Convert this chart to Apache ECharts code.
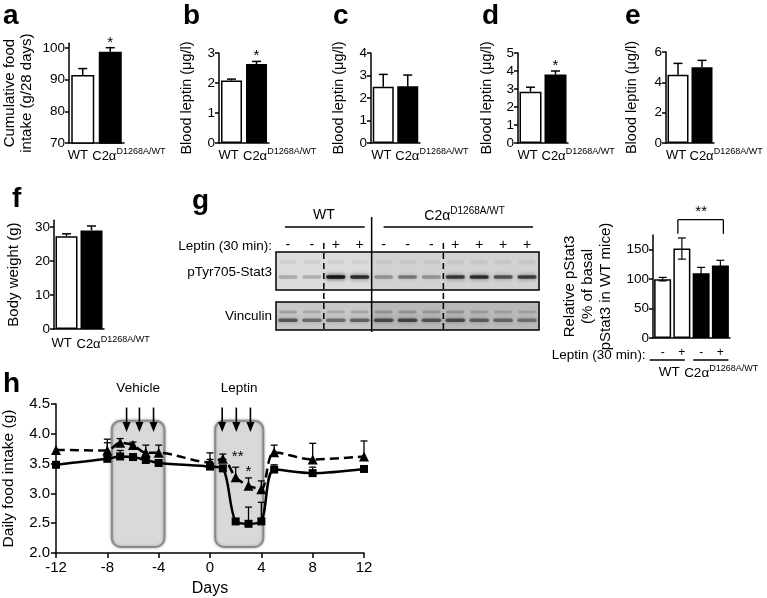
<!DOCTYPE html>
<html><head><meta charset="utf-8">
<script src="https://cdn.jsdelivr.net/npm/echarts@6.0.0/dist/echarts.min.js"></script>
<style>html,body{margin:0;padding:0;background:#fff;}#chart{width:767px;height:598px;}</style>
</head><body><div id="chart"></div>
<script>
// ---------------- data ----------------
const genotypes = ['WT', 'C2α^D1268A/WT'];
const barFill = ['#ffffff', '#000000'];

const foodIntake28 = [91.5, 98.8];
const foodIntake28Err = [2.0, 1.3];
const foodIntake28Sig = ['', '*'];

const leptinB = [2.08, 2.63];
const leptinBErr = [0.05, 0.09];
const leptinBSig = ['', '*'];

const leptinC = [2.5, 2.52];
const leptinCErr = [0.55, 0.5];
const leptinCSig = ['', ''];

const leptinD = [2.85, 3.8];
const leptinDErr = [0.25, 0.2];
const leptinDSig = ['', '*'];

const leptinE = [4.5, 5.0];
const leptinEErr = [0.75, 0.45];
const leptinESig = ['', ''];

const bodyWeight = [27.3, 29.0];
const bodyWeightErr = [0.7, 1.3];
const bodyWeightSig = ['', ''];

const blotGenotype = ['WT','WT','WT','WT','C2','C2','C2','C2','C2','C2','C2'];
const blotLeptin = ['-','-','+','+','-','-','-','+','+','+','+'];
const pStat3Band = [0.22, 0.2, 0.95, 0.8, 0.3, 0.42, 0.3, 0.72, 0.78, 0.6, 0.7];
const vinculinBand = [0.55, 0.45, 0.45, 0.5, 0.6, 0.62, 0.55, 0.6, 0.5, 0.45, 0.4];

const pStatGroup = ['WT', 'WT', 'C2α^D1268A/WT', 'C2α^D1268A/WT'];
const pStatLeptin = ['-', '+', '-', '+'];
const pStat3Rel = [100, 152, 110, 123];
const pStat3RelErr = [3, 18, 10, 9];

const days = [-12, -8, -7, -6, -5, -4, 0, 1, 2, 3, 4, 5, 8, 12];
const intakeTri = [3.73, 3.72, 3.85, 3.81, 3.68, 3.68, 3.52, 3.58, 3.27, 3.13, 3.07, 3.69, 3.57, 3.62];
const intakeTriErr = [0, 0.19, 0.07, 0.05, 0.13, 0.13, 0.16, 0.08, 0.17, 0.13, 0.14, 0.12, 0.27, 0.26];
const intakeSq = [3.48, 3.58, 3.62, 3.61, 3.56, 3.51, 3.45, 3.42, 2.53, 2.49, 2.53, 3.40, 3.34, 3.41];
const intakeSqErr = [0, 0.27, 0.1, 0, 0, 0, 0.12, 0, 0, 0.28, 0.32, 0.08, 0.1, 0];
const treatName = ['Vehicle', 'Leptin'];
const treatFrom = [-7.65, 0.4];
const treatTo = [-3.55, 4.15];
const treatBox = [2.1, 4.22];
const injectionDays = [-6.5, -5.5, -4.4, 0.95, 2.05, 3.15];
const hStarDay = [2, 3];
const hStarText = ['**', '*'];

// ---------------- helpers ----------------
const FONT = '"Liberation Sans", Arial, Helvetica, sans-serif';
const BLACK = '#000';
const AX = {color: BLACK, width: 1.5};

function genoRich(label) {
  const parts = label.split('^');
  return parts[1] ? '{n|' + parts[0] + '}{s|' + parts[1] + '}' : '{n|' + parts[0] + '}';
}
function richStyle(fs) {
  return {
    n: {fontSize: fs, fontFamily: FONT, lineHeight: fs + 3, verticalAlign: 'bottom', color: BLACK},
    s: {fontSize: Math.round(fs * 0.7), fontFamily: FONT, lineHeight: Math.round(fs * 0.78), verticalAlign: 'top', color: BLACK}
  };
}

function errorBars(idx, rows, both, capHalf, lw, z) {
  return {
    type: 'custom', xAxisIndex: idx, yAxisIndex: idx, z: z || 4, silent: true,
    encode: {x: 0, y: 1}, data: rows,
    renderItem: function (params, api) {
      const x = api.value(0), v = api.value(1), e = api.value(2);
      if (!e) return null;
      const t = api.coord([x, v + e]);
      const b = api.coord([x, both ? v - e : v]);
      const st = {stroke: BLACK, lineWidth: lw};
      const ch = [
        {type: 'line', shape: {x1: t[0], y1: t[1], x2: b[0], y2: b[1]}, style: st},
        {type: 'line', shape: {x1: t[0] - capHalf, y1: t[1], x2: t[0] + capHalf, y2: t[1]}, style: st}
      ];
      if (both) ch.push({type: 'line', shape: {x1: b[0] - capHalf, y1: b[1], x2: b[0] + capHalf, y2: b[1]}, style: st});
      return {type: 'group', children: ch};
    }
  };
}

const barPanels = [
  {vals: foodIntake28, errs: foodIntake28Err, sig: foodIntake28Sig, name: 'Cumulative food\nintake (g/28 days)', nameSize: 15,
   min: 70, max: 101.5, interval: 10, ticks: [70, 80, 90, 100], left: 68, top: 43.25, width: 56, height: 99.75, barWidth: 23, nameGap: 33, lblDy: 12, wtDx: -5, c2Dx: -18},
  {vals: leptinB, errs: leptinBErr, sig: leptinBSig, name: 'Blood leptin (μg/l)', nameSize: 14.5,
   min: 0, max: 3, interval: 1, left: 219, top: 53, width: 50, height: 90, barWidth: 21, nameGap: 23, lblDy: 12, wtDx: -3, c2Dx: -13.5},
  {vals: leptinC, errs: leptinCErr, sig: leptinCSig, name: 'Blood leptin (μg/l)', nameSize: 14.5,
   min: 0, max: 4, interval: 1, left: 371, top: 53, width: 49, height: 90, barWidth: 21, nameGap: 23, lblDy: 12, wtDx: -2, c2Dx: -12.5},
  {vals: leptinD, errs: leptinDErr, sig: leptinDSig, name: 'Blood leptin (μg/l)', nameSize: 14.5,
   min: 0, max: 5, interval: 1, left: 518, top: 53, width: 50, height: 90, barWidth: 22, nameGap: 22, lblDy: 12, wtDx: -3, c2Dx: -14},
  {vals: leptinE, errs: leptinEErr, sig: leptinESig, name: 'Blood leptin (μg/l)', nameSize: 14.5,
   min: 0, max: 6, interval: 2, left: 666, top: 52, width: 48, height: 91, barWidth: 21, nameGap: 25, lblDy: 12, wtDx: -2, c2Dx: -12.5},
  {vals: bodyWeight, errs: bodyWeightErr, sig: bodyWeightSig, name: 'Body weight (g)', nameSize: 15,
   min: 0, max: 32, interval: 10, ticks: [0, 10, 20, 30], left: 54, top: 220.2, width: 50, height: 108.8, barWidth: 22, nameGap: 31, lblDy: 14, wtDx: -5, c2Dx: -15}
];

const option = {
  animation: false,
  textStyle: {fontFamily: FONT, color: BLACK},
  grid: [], xAxis: [], yAxis: [], series: []
};

barPanels.forEach(function (p, gi) {
  option.grid.push({left: p.left, top: p.top, width: p.width, height: p.height});
  option.xAxis.push({
    type: 'category', gridIndex: gi, data: genotypes,
    axisLine: {onZero: false, lineStyle: AX}, axisTick: {alignWithLabel: true, length: 4, lineStyle: AX},
    axisLabel: {show: false}
  });
  const yl = {fontSize: 13.5, margin: 4, color: BLACK, fontFamily: FONT};
  const yt = {show: true, length: 4, lineStyle: AX};
  if (p.ticks) { yl.customValues = p.ticks; yt.customValues = p.ticks; }
  option.yAxis.push({
    type: 'value', gridIndex: gi, min: p.min, max: p.max, interval: p.interval,
    splitLine: {show: false}, axisLine: {show: true, onZero: false, lineStyle: AX}, axisTick: yt, axisLabel: yl,
    name: p.name, nameLocation: 'middle', nameRotate: 90, nameGap: p.nameGap,
    nameTextStyle: {fontSize: p.nameSize, lineHeight: 17.5, color: BLACK, fontFamily: FONT}
  });
  option.series.push({
    type: 'bar', xAxisIndex: gi, yAxisIndex: gi, barWidth: p.barWidth, z: 2,
    data: p.vals.map(function (v, i) {
      return {value: v, itemStyle: {color: barFill[i], borderColor: BLACK, borderWidth: 1.5},
        label: {show: !!p.sig[i], formatter: p.sig[i], position: 'top', distance: 1, fontSize: 15, color: BLACK}};
    })
  });
  option.series.push(errorBars(gi, p.vals.map(function (v, i) { return [i, v, p.errs[i]]; }), false, 4.5, 1.5));
});

// ---- g: blot (grid 6) ----
option.grid.push({left: 276, top: 252, width: 263, height: 78});
option.xAxis.push({
  type: 'category', gridIndex: 6, position: 'top', data: blotLeptin.map(function (s, i) { return 'lane' + (i + 1); }),
  axisLine: {show: false}, axisTick: {show: false},
  axisLabel: {interval: 0, margin: 0, fontSize: 14, color: BLACK, formatter: function (v, i) { return blotLeptin[i]; }}
});
option.yAxis.push({type: 'value', gridIndex: 6, min: 0, max: 1, show: false});
option.series.push({
  type: 'custom', xAxisIndex: 6, yAxisIndex: 6, silent: true, z: 1,
  encode: {x: 0, y: 1},
  data: blotLeptin.map(function (s, i) { return [i, pStat3Band[i], vinculinBand[i]]; }),
  renderItem: function (params, api) {
    const cs = params.coordSys;
    const lane = api.value(0);
    const cx = api.coord([lane, 0])[0];
    const w = api.size([1, 0])[0];
    const p = api.value(1), v = api.value(2);
    const mut = blotGenotype[lane] !== 'WT';
    const r1y = cs.y, r1h = cs.height * 38 / 78;
    const r2y = cs.y + cs.height * 50 / 78, r2h = cs.height * 28 / 78;
    const bg1 = mut ? '#d2d2d2' : '#dcdcdc';
    const bg2 = mut ? '#b9b9b9' : '#c8c8c8';
    const band = function (y, h, a, wf) {
      return {type: 'rect', shape: {x: cx - w * wf / 2, y: y - h / 2, width: w * wf, height: h, r: h / 2},
        style: {fill: 'rgba(15,15,15,' + a + ')', shadowBlur: 4, shadowColor: 'rgba(15,15,15,' + a + ')'}};
    };
    return {type: 'group', children: [
      {type: 'rect', shape: {x: cx - w / 2, y: r1y, width: w + 0.5, height: r1h}, style: {fill: bg1}},
      {type: 'rect', shape: {x: cx - w / 2, y: r2y, width: w + 0.5, height: r2h}, style: {fill: bg2}},
      band(cs.y + cs.height * 0.13, 4, 0.06, 0.7),
      band(cs.y + cs.height * 0.32, 3.5, p, 0.8),
      band(cs.y + cs.height * 0.77, 3, v * 0.35, 0.75),
      band(cs.y + cs.height * 0.875, 3.5, v, 0.82)
    ]};
  }
});

// ---- g: bar (grid 7) ----
option.grid.push({left: 653, top: 235, width: 77, height: 103});
option.xAxis.push({
  type: 'category', gridIndex: 7, data: pStatLeptin.map(function (s, i) { return pStatGroup[i] + s + i; }),
  axisLine: {onZero: false, lineStyle: AX}, axisTick: {show: false},
  axisLabel: {interval: 0, margin: 9, fontSize: 12, color: BLACK, formatter: function (v, i) { return pStatLeptin[i]; }}
});
option.yAxis.push({
  type: 'value', gridIndex: 7, min: 0, max: 175, interval: 50,
  splitLine: {show: false}, axisLine: {show: true, onZero: false, lineStyle: AX},
  axisTick: {show: true, length: 4, lineStyle: AX, customValues: [0, 50, 100, 150]},
  axisLabel: {fontSize: 13.5, margin: 4, color: BLACK, customValues: [0, 50, 100, 150]},
  name: 'Relative pStat3\n(% of basal\npStat3 in WT mice)', nameLocation: 'middle', nameRotate: 90, nameGap: 38,
  nameTextStyle: {fontSize: 15, lineHeight: 18, color: BLACK, fontFamily: FONT}
});
option.series.push({
  type: 'bar', xAxisIndex: 7, yAxisIndex: 7, barWidth: 17, z: 2,
  data: pStat3Rel.map(function (v, i) {
    return {value: v, itemStyle: {color: pStatGroup[i] === 'WT' ? '#ffffff' : '#000000', borderColor: BLACK, borderWidth: 1.5}};
  })
});
option.series.push(errorBars(7, pStat3Rel.map(function (v, i) { return [i, v, pStat3RelErr[i]]; }), true, 4, 1.2));

// ---- h: daily food intake (grid 8) ----
option.grid.push({left: 56, top: 404, width: 308, height: 149});
option.xAxis.push({
  type: 'value', gridIndex: 8, min: -12, max: 12, interval: 4, splitLine: {show: false},
  axisLine: {onZero: false, lineStyle: AX}, axisTick: {length: 5, lineStyle: AX},
  axisLabel: {fontSize: 15, margin: 7, color: BLACK},
  name: 'Days', nameLocation: 'middle', nameGap: 28, nameTextStyle: {fontSize: 16, color: BLACK, fontFamily: FONT}
});
option.yAxis.push({
  type: 'value', gridIndex: 8, min: 2, max: 4.5, interval: 0.5, splitLine: {show: false},
  axisLine: {show: true, onZero: false, lineStyle: AX}, axisTick: {show: true, length: 5, lineStyle: AX},
  axisLabel: {fontSize: 15, margin: 6, color: BLACK, formatter: function (v) { return v.toFixed(1); }},
  name: 'Daily food intake (g)', nameLocation: 'middle', nameRotate: 90, nameGap: 39,
  nameTextStyle: {fontSize: 15.5, color: BLACK, fontFamily: FONT}
});
option.series.push({
  type: 'custom', xAxisIndex: 8, yAxisIndex: 8, silent: true, z: 1,
  encode: {x: [0, 1]},
  data: treatFrom.map(function (f, i) { return [f, treatTo[i]]; }),
  renderItem: function (params, api) {
    const a = api.coord([api.value(0), treatBox[1]]);
    const b = api.coord([api.value(1), treatBox[0]]);
    return {type: 'group', children: [
      {type: 'rect', shape: {x: a[0], y: a[1], width: b[0] - a[0], height: b[1] - a[1], r: 9},
        style: {fill: '#d9d9d9', stroke: '#8a8a8a', lineWidth: 2, shadowBlur: 3, shadowColor: 'rgba(0,0,0,0.3)'}},
      {type: 'text', x: (a[0] + b[0]) / 2, y: params.coordSys.y - 16,
        style: {text: treatName[params.dataIndex], fontSize: 13.5, fontFamily: FONT, fill: BLACK, align: 'center', verticalAlign: 'middle'}}
    ]};
  }
});
option.series.push({
  type: 'custom', xAxisIndex: 8, yAxisIndex: 8, silent: true, z: 2,
  encode: {x: 0},
  data: injectionDays.map(function (d) { return [d]; }),
  renderItem: function (params, api) {
    const t = api.coord([api.value(0), 4.44]);
    const b = api.coord([api.value(0), 4.03]);
    return {type: 'group', children: [
      {type: 'line', shape: {x1: t[0], y1: t[1], x2: b[0], y2: b[1] - 8}, style: {stroke: BLACK, lineWidth: 1.6}},
      {type: 'polygon', shape: {points: [[b[0] - 4, b[1] - 10], [b[0] + 4, b[1] - 10], [b[0], b[1]]]}, style: {fill: BLACK}}
    ]};
  }
});
option.series.push(errorBars(8, days.map(function (d, i) { return [d, intakeTri[i], intakeTriErr[i]]; }), false, 3.5, 1.3, 3));
option.series.push(errorBars(8, days.map(function (d, i) { return [d, intakeSq[i], intakeSqErr[i]]; }), false, 3.5, 1.3, 3));
option.series.push({
  type: 'line', xAxisIndex: 8, yAxisIndex: 8, z: 5, smooth: 0.3,
  data: days.map(function (d, i) { return [d, intakeTri[i]]; }),
  symbol: 'triangle', symbolSize: 10, showAllSymbol: true,
  lineStyle: {color: BLACK, width: 2.5, type: [9, 5]}, itemStyle: {color: BLACK}
});
option.series.push({
  type: 'line', xAxisIndex: 8, yAxisIndex: 8, z: 6, smooth: 0.3,
  data: days.map(function (d, i) { return [d, intakeSq[i]]; }),
  symbol: 'rect', symbolSize: 8, showAllSymbol: true,
  lineStyle: {color: BLACK, width: 2.5}, itemStyle: {color: BLACK}
});

const chart = echarts.init(document.getElementById('chart'), null, {renderer: 'canvas'});
chart.setOption(option);

// ---------------- annotations positioned through the axes ----------------
const px = function (gi, pt) { return chart.convertToPixel({gridIndex: gi}, pt); };
const G = [];
function txt(x, y, text, fs, align, extra) {
  const st = Object.assign({text: text, fontSize: fs, fontFamily: FONT, fill: BLACK, align: align || 'center', verticalAlign: 'middle'}, extra || {});
  G.push({type: 'text', z: 100, x: x, y: y, silent: true, style: st});
}
function rich(x, y, label, fs, align) {
  G.push({type: 'text', z: 100, x: x, y: y, silent: true,
    style: {text: genoRich(label), rich: richStyle(fs), align: align || 'left', verticalAlign: 'middle', fontFamily: FONT}});
}
function seg(x1, y1, x2, y2, lw, dash) {
  G.push({type: 'line', z: 100, silent: true, shape: {x1: x1, y1: y1, x2: x2, y2: y2}, style: {stroke: BLACK, lineWidth: lw || 1.5, lineDash: dash || null}});
}

// panel letters
[['a', 3, 16], ['b', 183, 16], ['c', 333, 16], ['d', 482, 16], ['e', 625, 16], ['f', 12, 199], ['g', 192, 201], ['h', 3, 384]]
  .forEach(function (l) { txt(l[1], l[2], l[0], 28, 'left', {fontWeight: 'bold'}); });

// genotype labels under bar panels a-f
barPanels.forEach(function (p, gi) {
  const w = px(gi, [0, p.min]);
  const m = px(gi, [1, p.min]);
  txt(w[0] + p.wtDx, w[1] + p.lblDy, genotypes[0].split('^')[0], 13, 'center');
  rich(m[0] + p.c2Dx, w[1] + p.lblDy, genotypes[1], 13, 'left');
});

// blot decorations
const l0 = px(6, [0, 0]), l1 = px(6, [1, 0]);
const laneW = l1[0] - l0[0];
const laneX = function (i) { return px(6, [i, 0])[0]; };
const blotL = laneX(0) - laneW / 2, blotR = laneX(blotLeptin.length - 1) + laneW / 2;
const blotTop = px(6, [0, 1])[1], blotBot = px(6, [0, 0])[1];
const bh = blotBot - blotTop;
G.push({type: 'rect', z: 100, silent: true, shape: {x: blotL, y: blotTop, width: blotR - blotL, height: bh * 38 / 78}, style: {fill: 'none', stroke: BLACK, lineWidth: 1.5}});
G.push({type: 'rect', z: 100, silent: true, shape: {x: blotL, y: blotTop + bh * 50 / 78, width: blotR - blotL, height: bh * 28 / 78}, style: {fill: 'none', stroke: BLACK, lineWidth: 1.5}});
const firstMut = blotGenotype.indexOf('C2');
const grpX = laneX(firstMut) - laneW / 2;
seg(grpX, blotTop - 35, grpX, blotBot + 2, 1.5);
for (let i = 1; i < blotLeptin.length; i++) {
  if (blotGenotype[i] === blotGenotype[i - 1] && blotLeptin[i] !== blotLeptin[i - 1]) {
    const x = laneX(i) - laneW / 2;
    seg(x, blotTop - 9, x, blotBot, 1.5, [6, 4]);
  }
}
seg(laneX(0) - 3, blotTop - 25, laneX(firstMut - 1) + 5, blotTop - 25, 1.5);
seg(laneX(firstMut), blotTop - 25, blotR - 6, blotTop - 25, 1.5);
txt((laneX(0) + laneX(firstMut - 1)) / 2, blotTop - 37, 'WT', 14, 'center');
rich((laneX(firstMut) + blotR) / 2 - 37, blotTop - 37, 'C2α^D1268A/WT', 14, 'left');
txt(blotL - 4, blotTop - 6, 'Leptin (30 min):', 13.5, 'right');
txt(blotL - 4, blotTop + bh * 0.26, 'pTyr705-Stat3', 13.5, 'right');
txt(blotL - 4, blotTop + bh * 0.83, 'Vinculin', 13.5, 'right');

// g bar decorations
const g0 = px(7, [0, 0]), g1 = px(7, [1, 0]), g2 = px(7, [2, 0]), g3 = px(7, [3, 0]);
txt(g0[0] - 17, g0[1] + 17, 'Leptin (30 min):', 13.5, 'right');
seg(g0[0] - 13, g0[1] + 22, g1[0] + 3, g0[1] + 22, 1.5);
seg(g2[0] - 8, g0[1] + 22, g3[0] + 8, g0[1] + 22, 1.5);
txt((g0[0] + g1[0]) / 2 - 3, g0[1] + 34, 'WT', 13.5, 'center');
rich(g2[0] - 17, g0[1] + 34, pStatGroup[2], 13.5, 'left');
const bTop = px(7, [1, 201]), bEnd1 = px(7, [1, 177]), bEnd3 = px(7, [3, 177]), bTop3 = px(7, [3, 201]);
seg(bTop[0] - 4, bEnd1[1], bTop[0] - 4, bTop[1], 1.3);
seg(bTop[0] - 4, bTop[1], bTop3[0] + 3, bTop3[1], 1.3);
seg(bTop3[0] + 3, bTop3[1], bTop3[0] + 3, bEnd3[1], 1.3);
txt((bTop[0] + bTop3[0]) / 2, bTop[1] - 8, '**', 15, 'center');

// h significance marks
hStarDay.forEach(function (d, k) {
  const i = days.indexOf(d);
  const p = px(8, [d, intakeTri[i] + intakeTriErr[i]]);
  txt(p[0] + (k === 0 ? 2 : 0), p[1] - (k === 0 ? 10 : 6), hStarText[k], 15, 'center');
});

chart.setOption({graphic: G});
</script></body></html>
